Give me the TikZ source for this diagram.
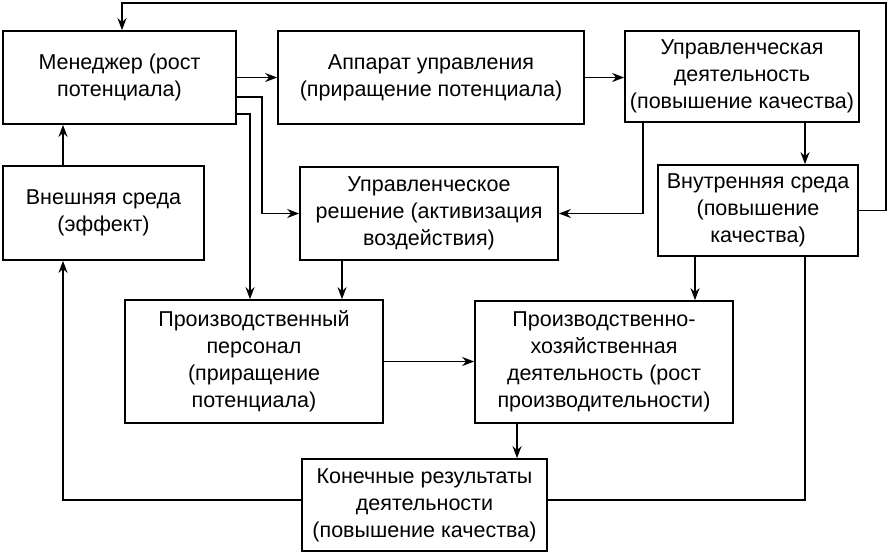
\documentclass[tikz,border=0pt]{standalone}
\usepackage{fontspec}
\setmainfont{Liberation Sans}
\usetikzlibrary{arrows.meta,calc}
\tikzstyle{block}=[draw, line width=1.7pt, align=center, inner sep=1pt, font=\fontsize{21.5}{27}\selectfont]
\tikzstyle{link}=[->, >={Stealth[length=12pt,width=9pt]}, line width=1.7pt]
\tikzstyle{wire}=[line width=1.7pt]
\begin{document}
\begin{tikzpicture}[x=1pt,y=-1pt]
        \useasboundingbox (0,0) rectangle (888,554);
        % top row
        \node(men)[block, minimum width=233pt, minimum height=93pt] at (119.5, 77.5){Менеджер (рост\\потенциала)};
        \node(app)[block, minimum width=306pt, minimum height=93pt] at (431, 77.5){Аппарат управления\\(приращение потенциала)};
        \node(uprd)[block, minimum width=234pt, minimum height=91pt] at (742, 76.5){Управленческая\\деятельность\\(повышение качества)};
        % middle row
        \node(vnesh)[block, minimum width=201pt, minimum height=94pt] at (103.5, 213){Внешняя среда\\(эффект)};
        \node(uprr)[block, minimum width=258pt, minimum height=93pt] at (429, 213.5){Управленческое\\решение (активизация\\воздействия)};
        \node(vnut)[block, minimum width=200pt, minimum height=91pt] at (758, 210.5){Внутренняя среда\\(повышение\\качества)};
        % lower rows
        \node(pers)[block, minimum width=258pt, minimum height=123pt] at (254, 361.5){Производственный\\персонал\\(приращение\\потенциала)};
        \node(proizv)[block, minimum width=258pt, minimum height=122pt] at (604, 362){Производственно-\\хозяйственная\\деятельность (рост\\производительности)};
        \node(kon)[block, minimum width=245pt, minimum height=92pt] at (424.5, 505){Конечные результаты\\деятельности\\(повышение качества)};
        \coordinate(corner) at (886, 3);
        \draw[link] (men.east) -- (men.east -| app.west);
        \draw[link] (app.east) -- (app.east -| uprd.west);
        \draw[link] ([xshift=63pt]uprd.south) -- ([xshift=63pt]uprd.south |- vnut.north);
        \draw[link] ([xshift=-99pt]uprd.south) |- (uprr.east);
        \draw[link] ([yshift=-19.5pt]men.east) -| ($(uprr.west)+(-37,0)$) -- (uprr.west);
        \draw[link] ([yshift=-36.5pt]men.east) -| ([xshift=-4pt]pers.north);
        \draw[link] ([xshift=-87pt]uprr.south) -- ([xshift=-87pt]uprr.south |- pers.north);
        \draw[link] ([xshift=-63pt]vnut.south) -- ([xshift=-63pt]vnut.south |- proizv.north);
        \draw[link] (pers.east) -- (pers.east -| proizv.west);
        \draw[link] ([xshift=-87pt]proizv.south) -- ([xshift=-87pt]proizv.south |- kon.north);
        \draw[link] ([yshift=5pt]kon.west) -| ([xshift=-40.5pt]vnesh.south);
        \draw[link] ([xshift=-40.5pt]vnesh.north) -- ([xshift=-40.5pt]vnesh.north |- men.south);
        \draw[wire] ([yshift=5pt]kon.east) -| ([xshift=47pt]vnut.south);
        \draw[link] (vnut.east) -| (corner) -| ([xshift=2.5pt]men.north);
     \end{tikzpicture}
\end{document}
